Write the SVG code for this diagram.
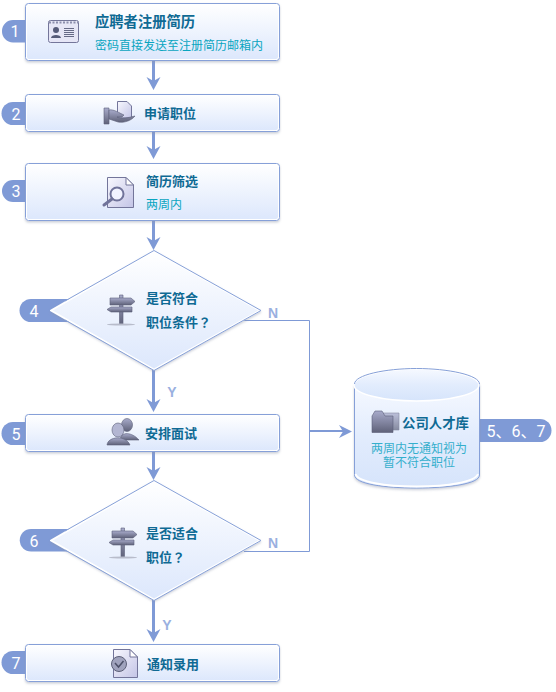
<svg xmlns="http://www.w3.org/2000/svg" width="556" height="692" viewBox="0 0 556 692">
<defs>
<linearGradient id="g" x1="0" y1="0" x2="0" y2="1"><stop offset="0" stop-color="#ffffff"/><stop offset="1" stop-color="#dce7fc"/></linearGradient>
<linearGradient id="cyl" x1="0" y1="0" x2="0" y2="1"><stop offset="0" stop-color="#f6f9ff"/><stop offset="0.5" stop-color="#e2ecfd"/><stop offset="1" stop-color="#d6e4fb"/></linearGradient>
<linearGradient id="ic" x1="0" y1="0" x2="0" y2="1"><stop offset="0" stop-color="#a8abcb"/><stop offset="1" stop-color="#5f6279"/></linearGradient>
<linearGradient id="pg" x1="0" y1="0" x2="1" y2="1"><stop offset="0" stop-color="#f8f8fe"/><stop offset="1" stop-color="#c3c4e6"/></linearGradient>
<filter id="s" x="-10%" y="-10%" width="120%" height="130%"><feDropShadow dx="0" dy="1.5" stdDeviation="1.2" flood-color="#8a93a8" flood-opacity="0.45"/></filter>
<path id="head" d="M-7 -13L0 -9L7 -13L0 0Z" fill="#7f9ad6"/>
</defs>
<style>
.box{fill:url(#g);stroke:#fff;stroke-width:2}
.bord{fill:none;stroke:#86a0d8;stroke-width:1}
.badge{fill:#7f9ad6}
.num{font:16px "Roboto",sans-serif;fill:#fff;text-anchor:middle}
.t{font:bold 13px "Liberation Sans","Noto Sans CJK SC",sans-serif;fill:#0f6a94}
.st{font:12px "Liberation Sans","Noto Sans CJK SC",sans-serif;fill:#09a5c0}
.st2{fill:#35afcc;text-anchor:middle}
.yn{font:bold 14px "Liberation Sans",sans-serif;fill:#9ab0e0;text-anchor:middle}
.ln{fill:none;stroke:#7f9ad6}
.ico{fill:url(#ic);stroke:#5d6078;stroke-width:.6}
.pg{fill:url(#pg);stroke:#73759a;stroke-width:1}
</style>

<g id="connectors">
<path class="ln" stroke-width="3" d="M153.500 60V84"/><use href="#head" x="153.500" y="90"/>
<path class="ln" stroke-width="3" d="M153.500 131V153"/><use href="#head" x="153.500" y="159"/>
<path class="ln" stroke-width="3" d="M153.500 220V244"/><use href="#head" x="153.500" y="250"/>
<path class="ln" stroke-width="3" d="M153.500 370V406"/><use href="#head" x="153.500" y="412"/>
<path class="ln" stroke-width="3" d="M153.500 451V474"/><use href="#head" x="153.500" y="480"/>
<path class="ln" stroke-width="3" d="M153.500 600V636"/><use href="#head" x="153.500" y="642"/>
<path class="ln" stroke-width="1" d="M244 320.500H309.500V551.500H244"/>
<path class="ln" stroke-width="2" d="M310 431H345"/>
<path d="M339 425L352 431.500L339 438L343 431.500Z" fill="#7f9ad6"/>
<text class="yn" x="172" y="397">Y</text>
<text class="yn" x="167" y="630">Y</text>
<text class="yn" x="273" y="318">N</text>
<text class="yn" x="273" y="548">N</text>
</g>

<g id="node1">
<path class="badge" d="M26 20H13A11 11 0 0 0 2 31A11 11 0 0 0 13 42.500H26Z"/>
<text class="num" x="15" y="37">1</text>
<rect x="26" y="4" width="253" height="56" rx="3" class="box" filter="url(#s)"/>
<rect x="25.500" y="3.500" width="254" height="57" rx="3" class="bord"/>
<rect x="48.500" y="20.500" width="30" height="22" rx="2" fill="#e6e6f6" stroke="#74769a"/>
<path d="M49 22.500H78" stroke="#8c8eac" stroke-width="2" stroke-dasharray="2 1.500"/>
<circle cx="56" cy="30" r="3" fill="#555a78"/><path d="M51 38C51 34 61 34 61 38Z" fill="#555a78"/>
<path d="M64 28.500H74M64 30.500H74M64 32.500H74M64 34.500H74M64 36.500H74" stroke="#666a86"/>
<text class="t" x="95" y="27" style="font-size:14.300px">应聘者注册简历</text>
<text class="st" x="95" y="50">密码直接发送至注册简历邮箱内</text>
</g>

<g id="node2">
<path class="badge" d="M26 102H13A11.500 11.500 0 0 0 13 125H26Z"/>
<text class="num" x="16" y="120">2</text>
<rect x="26" y="95" width="253" height="36" rx="3" class="box" filter="url(#s)"/>
<rect x="25.500" y="94.500" width="254" height="37" rx="3" class="bord"/>
<path class="pg" d="M117.500 101.500H127L131.500 106V118H117.500Z"/>
<path class="ico" d="M104 108H109V124H104Z"/>
<path class="ico" d="M109 110C114 109 119 113 124 115L122 117H117C122 119 127 118 135 116C131 121 124 123 118 122L109 119Z"/>
<text class="t" x="144" y="118">申请职位</text>
</g>

<g id="node3">
<path class="badge" d="M26 180H13A11 11 0 0 0 13 202H26Z"/>
<text class="num" x="16" y="197">3</text>
<rect x="26" y="164" width="253" height="56" rx="3" class="box" filter="url(#s)"/>
<rect x="25.500" y="163.500" width="254" height="57" rx="3" class="bord"/>
<path class="pg" d="M107.500 177.500H126L133.500 185V207.500H107.500Z"/>
<path d="M126 177.500V185H133.500Z" fill="#fff" stroke="#73759a"/>
<circle cx="117" cy="194" r="6.500" fill="#f2f3ff" stroke="#70739a" stroke-width="2"/>
<path d="M112 199L104 205" stroke="#70739a" stroke-width="3" stroke-linecap="round"/>
<text class="t" x="146" y="186">简历筛选</text>
<text class="st" x="146" y="209">两周内</text>
</g>

<g id="node4">
<path class="badge" d="M70 299H31A11.500 11.500 0 0 0 31 322H70Z"/>
<text class="num" x="34" y="317">4</text>
<path d="M154 251L260 310.500L154 369.500L51 310.500Z" fill="url(#g)" stroke="#fff" stroke-width="2" stroke-linejoin="round" filter="url(#s)"/>
<path d="M154 250.500L261 310.500L154 370.500" fill="none" stroke="#86a0d8"/>
<path d="M154 250.500L65 301" fill="none" stroke="#86a0d8"/>
<path d="M154 370.500L65 320" fill="none" stroke="#86a0d8"/>
<path class="ico" d="M119.500 295H123V324.500H119.500Z"/>
<path class="ico" d="M110 298H131L135 301.500L131 305H110Z"/>
<path class="ico" d="M111 307H132V312H111L107 309.500Z"/>
<ellipse cx="121" cy="324.500" rx="14" ry="1" fill="#b8bccb"/>
<text class="t" x="146" y="303">是否符合</text>
<text class="t" x="146" y="327">职位条件<tspan style="font-family:'Noto Sans CJK TC',sans-serif">？</tspan></text>
</g>

<g id="node5">
<path class="badge" d="M26 422H13A11.500 11.500 0 0 0 13 445H26Z"/>
<text class="num" x="16" y="440">5</text>
<rect x="26" y="415" width="253" height="36" rx="3" class="box" filter="url(#s)"/>
<rect x="25.500" y="414.500" width="254" height="37" rx="3" class="bord"/>
<ellipse cx="127" cy="425" rx="5.500" ry="6.500" class="ico"/>
<path class="ico" d="M120 440C121 431 132 432 139 440Z"/>
<ellipse cx="118" cy="430" rx="6" ry="7" class="ico" style="fill:#b3b6d2"/>
<path class="ico" d="M107 445C108 436 126 435 130 445Z"/>
<text class="t" x="145" y="438">安排面试</text>
</g>

<g id="node6">
<path class="badge" d="M70 529H31A11 11 0 0 0 31 551.500H70Z"/>
<text class="num" x="34" y="547">6</text>
<path d="M154 481L260 540.500L154 599.500L51 540.500Z" fill="url(#g)" stroke="#fff" stroke-width="2" stroke-linejoin="round" filter="url(#s)"/>
<path d="M154 480.500L261 540.500L154 600.500" fill="none" stroke="#86a0d8"/>
<path d="M154 480.500L65 531" fill="none" stroke="#86a0d8"/>
<path d="M154 600.500L65 550" fill="none" stroke="#86a0d8"/>
<path class="ico" d="M121 528H124.500V557.500H121Z"/>
<path class="ico" d="M112 531H133L137 534.500L133 538H112Z"/>
<path class="ico" d="M113 540H134V545H113L109 542.500Z"/>
<ellipse cx="123" cy="557.500" rx="14" ry="1" fill="#b8bccb"/>
<text class="t" x="146" y="538">是否适合</text>
<text class="t" x="146" y="562">职位<tspan style="font-family:'Noto Sans CJK TC',sans-serif">？</tspan></text>
</g>

<g id="node7">
<path class="badge" d="M26 651H13A11.500 11.500 0 0 0 13 674H26Z"/>
<text class="num" x="16" y="669">7</text>
<rect x="26" y="645" width="253" height="36" rx="3" class="box" filter="url(#s)"/>
<rect x="25.500" y="644.500" width="254" height="37" rx="3" class="bord"/>
<path class="pg" d="M113.500 649.500H130L137.500 657V677.500H113.500Z"/>
<path d="M130 649.500V657H137.500Z" fill="#fff" stroke="#73759a"/>
<circle cx="119" cy="664" r="7.500" fill="#a0a3bd" stroke="#5d6078"/>
<path d="M115 663L118.500 667L123.500 661" fill="none" stroke="#4c5068" stroke-width="1.500"/>
<text class="t" x="147" y="669">通知录用</text>
</g>

<g id="node8">
<path class="badge" d="M475 419H540A11.500 11.500 0 0 1 540 442H475Z"/>
<text class="num" x="516" y="437" style="font-family:'Roboto','Noto Sans CJK SC',sans-serif;font-size:16px">5、6、7</text>
<path d="M354.500 384V475C354.500 484 385 488 416.500 488C448 488 479.500 484 479.500 475V384Z" fill="url(#cyl)" stroke="#86a0d8" filter="url(#s)"/>
<path d="M355.500 474C358 482 385 486.500 416.500 486.500C448 486.500 475 482 478 474" fill="none" stroke="#fff" stroke-width="2"/>
<ellipse cx="416.500" cy="385" rx="62.500" ry="16" fill="url(#cyl)" stroke="#fff" stroke-width="1.500"/>
<path d="M354.500 384C354.500 375 385 368.500 416.500 368.500C448 368.500 479.500 375 479.500 384" fill="none" stroke="#86a0d8"/>
<path class="ico" d="M376 413H399V430H376Z" opacity=".7"/>
<path class="ico" d="M372 416V432.500H393V416H385L382 411H375Z"/>
<text class="t" x="402" y="428" style="font-size:13.400px">公司人才库</text>
<text class="st st2" x="419" y="453">两周内无通知视为</text>
<text class="st st2" x="419" y="467">暂不符合职位</text>
</g>
</svg>
